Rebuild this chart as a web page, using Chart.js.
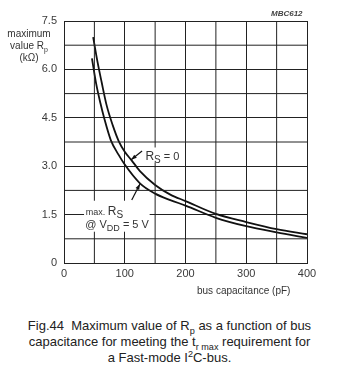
<!DOCTYPE html>
<html>
<head>
<meta charset="utf-8">
<script src="https://cdn.jsdelivr.net/npm/chart.js@4"></script>
<style>
  html, body { margin: 0; padding: 0; background: #fff; }
  body { width: 339px; height: 372px; position: relative; overflow: hidden;
         font-family: "Liberation Sans", Arial, sans-serif; color: #333; }
  #wrap { position: absolute; left: 0; top: 0; width: 339px; height: 300px; }
  .lbl { position: absolute; white-space: nowrap; }
  #ytitle { left: 0; top: 28px; width: 58px; text-align: center; font-size: 10px; line-height: 12px; }
  #xtitle { left: 197px; top: 285px; font-size: 10px; }
  #code { left: 271px; top: 9px; font-size: 8px; font-style: italic; font-weight: bold; color: #444; }
  #caption { left: 0; top: 318px; width: 339px; text-align: center; font-size: 13px; line-height: 16px; color: #222; }
  sub, sup { font-size: 70%; line-height: 0; }
</style>
</head>
<body>
<div id="wrap"><canvas id="rp_chart" width="339" height="300"></canvas></div>
<div class="lbl" id="ytitle">maximum<br>value R<sub>p</sub><br>(kΩ)</div>
<div class="lbl" id="xtitle">bus capacitance (pF)</div>
<div class="lbl" id="code">MBC612</div>
<div class="lbl" id="caption">Fig.44&nbsp; Maximum value of R<sub>p</sub> as a function of bus<br>capacitance for meeting the t<sub>r max</sub> requirement for<br>a Fast-mode I<sup>2</sup>C-bus.</div>
<script>
// Curve for R_S = 0 (bus capacitance in pF, Rp in kOhm)
const cap_rs0 = [48, 55, 62, 70, 80, 90, 100, 111, 125, 150, 175, 200, 250, 300, 350, 400];
const rp_rs0  = [7.0, 6.25, 5.6, 4.9, 4.28, 3.78, 3.45, 3.19, 2.85, 2.42, 2.12, 1.92, 1.52, 1.27, 1.05, 0.89];

// Curve for max. R_S @ VDD = 5 V
const cap_rsmax = [46, 53, 60, 66, 77, 90, 100, 125, 150, 175, 200, 250, 300, 350, 400];
const rp_rsmax  = [6.34, 5.55, 4.95, 4.5, 3.81, 3.35, 3.05, 2.47, 2.15, 1.95, 1.78, 1.4, 1.14, 0.95, 0.78];

// labelled ticks
const x_ticks  = [0, 100, 200, 300, 400];
const x_labels = ["0", "100", "200", "300", "400"];
const y_ticks  = [0, 1.5, 3.0, 4.5, 6.0, 7.5];
const y_labels = ["0", "1.5", "3.0", "4.5", "6.0", "7.5"];
// unlabelled grid lines in between
const x_minor = [50, 150, 250, 350];
const y_minor = [0.75, 2.25, 3.75, 5.25, 6.75];

function to_points(xs, ys) {
  return xs.map((x, i) => ({x: x, y: ys[i]}));
}

const base_line = {
  borderColor: "#111",
  borderWidth: 1.8,
  pointRadius: 0,
  fill: false,
  cubicInterpolationMode: "monotone"
};

// text annotations + arrows, placed in data coordinates
function draw_rich(ctx, parts, x, y) {
  let cx = x;
  parts.forEach(p => {
    ctx.font = (p.size || 11) + "px 'Liberation Sans', Arial, sans-serif";
    ctx.fillText(p.t, cx, y + (p.dy || 0));
    cx += ctx.measureText(p.t).width;
  });
}

function arrow(ctx, x0, y0, x1, y1) {
  ctx.beginPath();
  ctx.moveTo(x0, y0);
  ctx.lineTo(x1, y1);
  ctx.stroke();
  const a = Math.atan2(y1 - y0, x1 - x0);
  ctx.beginPath();
  ctx.moveTo(x1, y1);
  ctx.lineTo(x1 - 6 * Math.cos(a - 0.35), y1 - 6 * Math.sin(a - 0.35));
  ctx.lineTo(x1 - 6 * Math.cos(a + 0.35), y1 - 6 * Math.sin(a + 0.35));
  ctx.closePath();
  ctx.fill();
}

const notes_plugin = {
  id: "notes",
  afterDatasetsDraw(chart) {
    const ctx = chart.ctx, a = chart.chartArea, xs = chart.scales.x, ys = chart.scales.y;
    const px = v => xs.getPixelForValue(v), py = v => ys.getPixelForValue(v);
    ctx.save();
    // minor grid lines
    ctx.strokeStyle = "#222";
    ctx.lineWidth = 1;
    x_minor.forEach(v => {
      ctx.beginPath();
      ctx.moveTo(px(v), a.top);
      ctx.lineTo(px(v), a.bottom);
      ctx.stroke();
    });
    y_minor.forEach(v => {
      ctx.beginPath();
      ctx.moveTo(a.left, py(v));
      ctx.lineTo(a.right, py(v));
      ctx.stroke();
    });
    // white boxes behind labels
    ctx.fillStyle = "#fff";
    ctx.fillRect(px(133), py(3.58), px(195) - px(133), py(3.12) - py(3.58));
    ctx.fillRect(px(33), py(1.93), px(141) - px(33), py(0.97) - py(1.93));
    ctx.fillStyle = "#333";
    ctx.strokeStyle = "#111";
    ctx.lineWidth = 1.2;
    ctx.textBaseline = "alphabetic";
    draw_rich(ctx, [{t: "R", size: 12}, {t: "S", size: 10, dy: 3}, {t: " = 0", size: 11}], px(134), py(3.2));
    draw_rich(ctx, [{t: "max. ", size: 9}, {t: "R", size: 12}, {t: "S", size: 10, dy: 3}], px(36), py(1.48));
    draw_rich(ctx, [{t: "@ V", size: 11}, {t: "DD", size: 9, dy: 3}, {t: " = 5 V", size: 11}], px(35), py(1.07));
    ctx.fillStyle = "#111";
    arrow(ctx, px(128.5), py(3.47), px(110.5), py(3.2));
    arrow(ctx, px(111.5), py(1.95), px(125), py(2.45));
    ctx.restore();
  }
};

Chart.defaults.font.family = "'Liberation Sans', Arial, sans-serif";
Chart.defaults.font.size = 11;
Chart.defaults.color = "#3a3a3a";

const grid_style = { color: "#222", lineWidth: 1, drawTicks: false };

new Chart(document.getElementById("rp_chart").getContext("2d"), {
  type: "line",
  data: {
    datasets: [
      {...base_line, label: "R_S = 0", data: to_points(cap_rs0, rp_rs0)},
      {...base_line, label: "max. R_S @ VDD = 5 V", data: to_points(cap_rsmax, rp_rsmax)}
    ]
  },
  options: {
    responsive: false,
    animation: false,
    devicePixelRatio: 1,
    layout: { padding: { left: 0, top: 21, right: 32, bottom: 0 } },
    plugins: { legend: { display: false }, tooltip: { enabled: false } },
    scales: {
      x: {
        type: "linear", min: 0, max: 400,
        afterBuildTicks: s => { s.ticks = x_ticks.map(v => ({value: v})); },
        afterFit: s => { s.height = 37; },
        grid: grid_style,
        border: { color: "#222", width: 1 },
        ticks: { padding: 4, maxRotation: 0, autoSkip: false, callback: (v, i) => x_labels[i] }
      },
      y: {
        min: 0, max: 7.5,
        afterBuildTicks: s => { s.ticks = y_ticks.map(v => ({value: v})); },
        afterFit: s => { s.width = 64; },
        grid: grid_style,
        border: { color: "#222", width: 1 },
        ticks: { padding: 7, autoSkip: false, callback: (v, i) => y_labels[i] }
      }
    }
  },
  plugins: [notes_plugin]
});
</script>
</body>
</html>
